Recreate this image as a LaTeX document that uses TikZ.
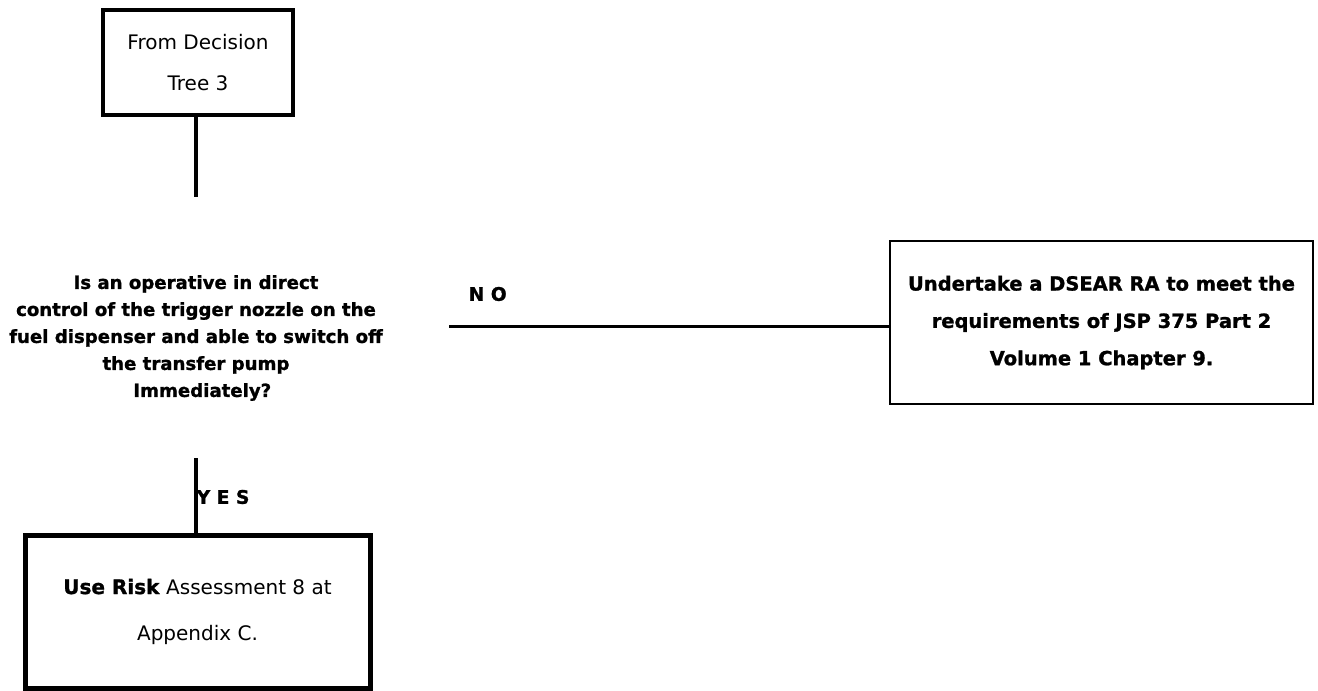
\documentclass[tikz,border=0pt]{standalone}
\usepackage{fontspec}
\setmainfont{DejaVu Sans}[BoldFeatures={FakeBold=1.2}]
\usetikzlibrary{calc, shapes}

\tikzset{
  caixa/.style={draw, line width=3pt, inner sep=0pt, align=center},
  linha/.style={line width=3pt},
  rotulo/.style={font=\bfseries\fontsize{14}{16}\selectfont, anchor=west}
}

\begin{document}
\begin{tikzpicture}[x=0.75pt, y=-0.75pt]
        \useasboundingbox (0,0) rectangle (1318,690); % area total
        \node[caixa, minimum width=142.5pt, minimum height=78.75pt, font=\fontsize{15}{30.75}\selectfont] (arvore) at (198,62.5) {From Decision\\Tree 3}; % caixa de cima
        \node[align=center, font=\bfseries\fontsize{13.6}{20.25}\selectfont] (pergunta) at (196,338) {Is an operative in direct\\control of the trigger nozzle on the\\fuel dispenser and able to switch off\\the transfer pump\\\ \ Immediately?}; % pergunta
        \node[caixa, line width=1pt, minimum width=317.25pt, minimum height=122.25pt, font=\bfseries\fontsize{14.6}{28}\selectfont] (naocaixa) at (1101.5,322.5) {Undertake a DSEAR RA to meet the\\requirements of JSP 375 Part 2\\Volume 1 Chapter 9.}; % caixa do nao
        \node[caixa, line width=3.75pt, minimum width=258.75pt, minimum height=114.75pt, font=\fontsize{15}{34.5}\selectfont] (simcaixa) at (197.5,611.5) {\textbf{Use Risk} Assessment 8 at\\Appendix C.}; % caixa do sim
        \coordinate (a1) at (196,197); % fim da linha de cima
        \coordinate (n1) at (449,326); % inicio da linha do nao
        \coordinate (s1) at (196,458); % inicio da linha do sim
        \draw[linha] (arvore.south -| a1) -- (a1); % linha de cima
        \draw[line width=2.25pt] (n1) -- (n1 -| naocaixa.west); % linha do nao
        \draw[linha] (s1) -- (s1 |- simcaixa.north); % linha do sim
        \node[rotulo] (nao) at (464,294) {N O}; % rotulo nao
        \node[rotulo] (sim) at (192,497) {Y E S}; % rotulo sim
    \end{tikzpicture}
\end{document}
